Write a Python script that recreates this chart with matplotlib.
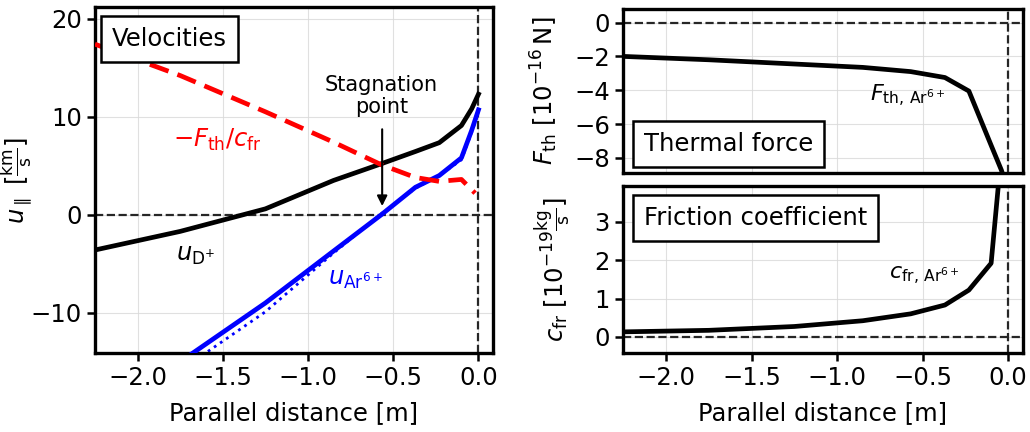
import matplotlib
matplotlib.use("Agg")
import matplotlib.pyplot as plt

# Parallel distance from the target [m]
s = [-2.25, -1.75, -1.25, -0.85, -0.57, -0.37, -0.23, -0.10, -0.04, 0.0]

# Velocities [km/s]
u_D = [-3.6, -1.7, 0.6, 3.5, 5.2, 6.45, 7.35, 9.1, 10.8, 12.3]
u_Ar = [-21.0, -15.0, -9.0, -3.7, 0.0, 2.8, 4.0, 5.8, 8.6, 10.7]
u_Ar_est = [-21.0, -15.9, -9.9, -3.9, 0.1, 2.7, 4.0, 5.6, 8.4, 10.5]
s_ratio = [-2.25, -1.75, -1.25, -0.85, -0.57, -0.37, -0.23, -0.10, -0.02]
ratio = [17.4, 14.2, 10.5, 7.4, 5.1, 3.8, 3.4, 3.6, 2.2]

# Thermal force [1e-16 N] and friction coefficient [1e-19 kg/s]
F_th = [-2.0, -2.2, -2.45, -2.65, -2.9, -3.25, -4.05, -7.26, -8.73, -10.0]
c_fr = [0.13, 0.17, 0.27, 0.42, 0.6, 0.83, 1.22, 1.92, 4.8, 8.0]

x_ticks = [-2.0, -1.5, -1.0, -0.5, 0.0]

FS = 17.5
plt.rcParams.update({
    "font.size": FS,
    "axes.linewidth": 2.4,
    "xtick.major.width": 1.8,
    "ytick.major.width": 1.8,
    "xtick.major.size": 6,
    "ytick.major.size": 6,
    "mathtext.fontset": "dejavusans",
})

fig = plt.figure(figsize=(10.3, 4.32), dpi=100)
ax_u = fig.add_axes([0.0922, 0.183, 0.3864, 0.801])
ax_f = fig.add_axes([0.605, 0.5995, 0.388, 0.3795])
ax_c = fig.add_axes([0.605, 0.183, 0.388, 0.386], sharex=ax_f)

box = dict(boxstyle="square,pad=0.45", facecolor="white", edgecolor="black", linewidth=1.8)
ref = dict(color="0.15", linestyle="--", linewidth=1.6, zorder=1)

for ax in (ax_u, ax_f, ax_c):
    ax.grid(True, color="0.85", linewidth=0.8, alpha=0.8)
    ax.set_axisbelow(True)
    ax.axhline(0, **ref)
    ax.axvline(0, **ref)
    ax.set_xlim(-2.25, 0.085)
    ax.set_xticks(x_ticks)
    ax.tick_params(labelsize=FS)

LW = 3.4

# Velocities panel
ax_u.plot(s, u_Ar_est, color="blue", linestyle=":", linewidth=2.0, zorder=2)
ax_u.plot(s, u_Ar, color="blue", linewidth=LW, zorder=3)
ax_u.plot(s, u_D, color="black", linewidth=LW, zorder=3)
ax_u.plot(s_ratio, ratio, color="red", linewidth=LW, zorder=3, dashes=(4.2, 2.0))
ax_u.set_ylim(-14.1, 21.2)
ax_u.set_yticks([-10, 0, 10, 20])
ax_u.set_xlabel("Parallel distance [m]", fontsize=FS, labelpad=8)
ax_u.set_ylabel(r"$u_\parallel\ [\frac{\mathrm{km}}{\mathrm{s}}]$", fontsize=FS)
ax_u.yaxis.set_label_coords(-0.148, 0.5)
ax_u.text(-2.15, 17.9, "Velocities", fontsize=FS, ha="left", va="center", bbox=box, zorder=5)
ax_u.text(-1.53, 7.6, r"$-F_{\mathrm{th}}/c_{\mathrm{fr}}$", color="red", fontsize=FS,
          ha="center", va="center")
ax_u.text(-1.66, -4.1, r"$u_{\mathrm{D^{+}}}$", color="black", fontsize=FS, ha="center", va="center")
ax_u.text(-0.72, -6.6, r"$u_{\mathrm{Ar^{6+}}}$", color="blue", fontsize=FS, ha="center", va="center")
ax_u.annotate("", xy=(-0.565, 0.6), xytext=(-0.565, 9.0),
              arrowprops=dict(arrowstyle="-|>", color="black", lw=1.5, mutation_scale=15))
ax_u.text(-0.57, 10.0, "Stagnation\npoint", fontsize=FS - 2.5, ha="center", va="bottom",
          linespacing=1.1)

# Thermal force panel
ax_f.plot(s, F_th, color="black", linewidth=LW, zorder=3)
ax_f.set_ylim(-8.9, 0.8)
ax_f.set_yticks([-8, -6, -4, -2, 0])
ax_f.tick_params(axis="x", labelbottom=False, length=0)
ax_f.set_ylabel(r"$F_{\mathrm{th}}\ [10^{-16}\,\mathrm{N}]$", fontsize=FS)
ax_f.yaxis.set_label_coords(-0.158, 0.5)
ax_f.text(-2.13, -7.16, "Thermal force", fontsize=FS, ha="left", va="center", bbox=box, zorder=5)
ax_f.text(-0.59, -4.35, r"$F_{\mathrm{th,\,Ar^{6+}}}$", fontsize=FS - 1.5, ha="center", va="center")

# Friction coefficient panel
ax_c.plot(s, c_fr, color="black", linewidth=LW, zorder=3)
ax_c.set_ylim(-0.42, 3.93)
ax_c.set_yticks([0, 1, 2, 3])
ax_c.set_xlabel("Parallel distance [m]", fontsize=FS, labelpad=8)
ax_c.set_ylabel(r"$c_{\mathrm{fr}}\ [10^{-19}\frac{\mathrm{kg}}{\mathrm{s}}]$", fontsize=FS)
ax_c.yaxis.set_label_coords(-0.125, 0.5)
ax_c.text(-2.13, 3.09, "Friction coefficient", fontsize=FS, ha="left", va="center", bbox=box, zorder=5)
ax_c.text(-0.49, 1.6, r"$c_{\mathrm{fr,\,Ar^{6+}}}$", fontsize=FS - 1.5, ha="center", va="center")

fig.savefig("out.png", dpi=100)
